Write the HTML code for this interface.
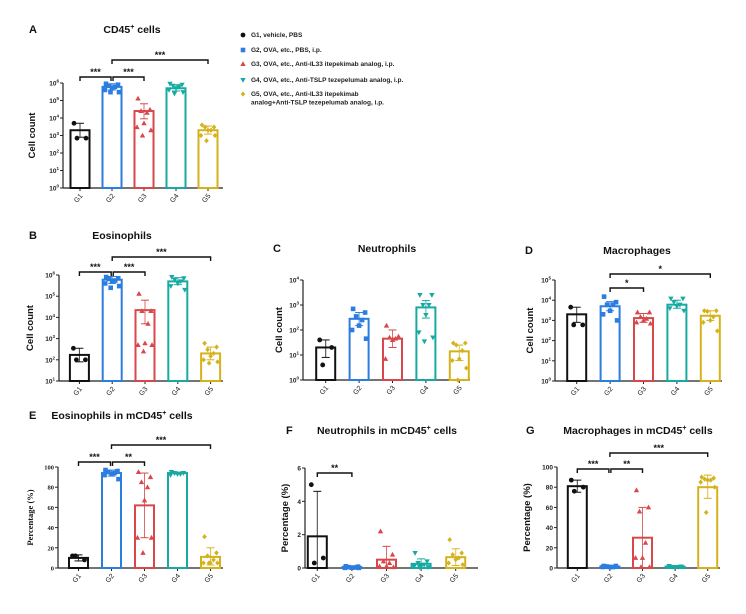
<!DOCTYPE html>
<html><head><meta charset="utf-8"><style>
body{margin:0;background:#fff;}
svg{display:block;font-family:"Liberation Sans",sans-serif;}
</style></head><body>
<svg id="fig" width="746" height="614" viewBox="0 0 746 614">
<g id="legend"></g>
</svg>
<script>
// ===== Data =====
const groups = ["G1","G2","G3","G4","G5"];
const legendLabels = ["G1, vehicle, PBS","G2, OVA, etc., PBS, i.p.","G3, OVA, etc., Anti-IL33 itepekimab analog, i.p.","G4, OVA, etc., Anti-TSLP tezepelumab analog, i.p.","G5, OVA, etc., Anti-IL33 itepekimab|analog+Anti-TSLP tezepelumab analog, i.p."];

const aMeans=[2000,600000,25000,500000,2000];
const aUp=[5000,900000,65000,800000,3500];
const aLo=[800,400000,9000,350000,1200];
const aPts=[[5000,700,700],[900000,800000,700000,600000,500000,400000,300000,300000],[130000,30000,25000,20000,5000,3000,2000,1000],[900000,800000,700000,600000,500000,400000,300000,250000],[4000,3000,3000,2000,2000,1000,1000,500]];

const bMeans=[170,600000,22000,500000,200];
const bUp=[350,850000,65000,750000,400];
const bLo=[80,400000,5000,350000,100];
const bPts=[[350,100,100],[800000,700000,650000,550000,500000,400000,300000,250000],[130000,20000,20000,5000,600,500,500,250],[800000,700000,600000,500000,400000,300000,200000],[600,400,300,200,150,100,80,70]];

const cMeans=[20,280,45,800,14];
const cUp=[40,500,100,1500,25];
const cLo=[8,150,20,300,6];
const cPts=[[40,20,4],[700,500,350,250,150,100,45],[150,55,50,45,40,7],[2500,2500,1000,1000,400,80,50,35],[30,30,25,15,7,6,3,1]];

const dMeans=[2000,5000,1300,6000,1700];
const dUp=[4500,8500,2200,10000,3000];
const dLo=[800,3000,800,4000,1000];
const dPts=[[4500,600,600],[15000,8000,6000,6000,3000,2000,1000],[2500,2500,1500,1200,1000,800,700],[12000,12000,8000,6000,5000,4000,3000],[3000,3000,2800,1500,1000,800,300]];

const eMeans=[10,94,62,94,11];
const eUp=[13,97,94,95,20];
const eLo=[7,91,30,93,3];
const ePts=[[12,8,12],[97,96,95,94,93,92,88],[95,90,85,80,67,30,30,15],[95,94,94,93,93,92],[31,15,12,8,5,5,5,5]];

const fMeans=[1.9,0.05,0.5,0.25,0.65];
const fUp=[4.6,0.1,1.3,0.55,1.15];
const fLo=[0,0,0,0,0.15];
const fPts=[[5,0.6,0.3],[0.1,0.08,0.05,0.03,0.02,0.01,0.01],[2.2,0.8,0.4,0.3,0.1,0.1,0.05],[0.9,0.4,0.3,0.2,0.1,0.1,0.05,0.05],[1.7,0.9,0.8,0.6,0.5,0.3,0.2]];

const gMeans=[81,1.5,30,1.5,80];
const gUp=[87,2.5,60,2.5,92];
const gLo=[75,0.5,0,0.5,69];
const gPts=[[87,80,76],[2,2,1.5,1,1,1],[77,60,56,25,10,10,1,1],[2,1.5,1,1],[90,89,88,87,87,85,80,55]];

const aLogTicks=[0,1,2,3,4,5,6];
const bLogTicks=[1,2,3,4,5,6];
const cLogTicks=[0,1,2,3,4];
const dLogTicks=[0,1,2,3,4,5];
const pctTicks=[0,20,40,60,80,100];
const fTicks=[0,2,4,6];

// ===== Rendering =====
const colors=["#111111","#2b7de0","#d9474a","#18aaa2","#d5b21c"];
const NS="http://www.w3.org/2000/svg";
const svg=document.getElementById('fig');
function mk(tag,attrs,parent){const e=document.createElementNS(NS,tag);for(const k in attrs)e.setAttribute(k,attrs[k]);(parent||svg).appendChild(e);return e;}
function marker(g,shape,x,y,c){
  let e;
  if(shape===0){e=mk('circle',{cx:x,cy:y,r:2.4,fill:c},g);}
  else if(shape===1){e=mk('rect',{x:x-2.3,y:y-2.3,width:4.6,height:4.6,fill:c},g);}
  else if(shape===2){e=mk('polygon',{points:`${x},${y-2.8} ${x+2.7},${y+2} ${x-2.7},${y+2}`,fill:c},g);}
  else if(shape===3){e=mk('polygon',{points:`${x},${y+2.8} ${x+2.7},${y-2} ${x-2.7},${y-2}`,fill:c},g);}
  else {e=mk('polygon',{points:`${x},${y-2.6} ${x+2.3},${y} ${x},${y+2.6} ${x-2.3},${y}`,fill:c},g);}
  
  
  return e;
}
const jit=[-6,6,-3,3,0,-7,7,-1.5,1.5];

function panel(p){
  const g=mk('g',{});
  
  
  const yf=p.log?(v=>p.y0-(Math.log10(Math.max(v,1e-9))-p.min)/(p.max-p.min)*(p.y0-p.y1)):(v=>p.y0-(v-p.min)/(p.max-p.min)*(p.y0-p.y1));
  // letter & title
  let t=mk('text',{x:p.lx,y:p.ty,'font-size':11,'font-weight':'bold',fill:'#111'},g);t.textContent=p.letter;
  
  t=mk('text',{x:p.tx,y:p.ty,'font-size':10.5,'font-weight':'bold','text-anchor':'middle',fill:'#111'},g);
  
  t.appendChild(document.createTextNode(p.title[0]));
  if(p.title.length>1){const s=mk('tspan',{'font-size':7,dy:-4},t);s.textContent=p.title[1];const s2=mk('tspan',{dy:4},t);s2.textContent=p.title[2];}
  // axes
  let a=mk('line',{x1:p.ax,y1:p.y1,x2:p.ax,y2:p.y0,stroke:'#222','stroke-width':1.2},g);
  
  a=mk('line',{x1:p.ax,y1:p.y0,x2:p.xe,y2:p.y0,stroke:'#222','stroke-width':1.2},g);
  
  p.ticks.forEach(tv=>{
    const yy=p.log?yf(Math.pow(10,tv)):yf(tv);
    mk('line',{x1:p.ax-3,y1:yy,x2:p.ax,y2:yy,stroke:'#222','stroke-width':1},g);
    const tt=mk('text',{x:p.ax-4,y:yy+2.5,'font-size':6.5,'text-anchor':'end',fill:'#222','font-family':p.serif?'"Liberation Serif",serif':'"Liberation Sans",sans-serif','font-weight':'bold'},g);
    
    if(p.log){tt.appendChild(document.createTextNode('10'));const s=mk('tspan',{'font-size':4.5,dy:-3},tt);s.textContent=String(tv);}
    else tt.textContent=String(tv);
  });
  const yl=mk('text',{transform:`translate(${p.ylx},${(p.y0+p.y1)/2}) rotate(-90)`,'font-size':p.serif?8.5:9.5,'font-weight':'bold','text-anchor':'middle',fill:'#111','font-family':p.serif?'"Liberation Serif",serif':'"Liberation Sans",sans-serif'},g);
  yl.textContent=p.ylabel;
  const step=(p.xe-p.ax)/5;
  groups.forEach((gn,i)=>{
    const cx=p.ax+step*(i+0.5)+p.off;
    const c=colors[i];
    mk('line',{x1:cx,y1:p.y0,x2:cx,y2:p.y0+3,stroke:'#222','stroke-width':1},g);
    const xl=mk('text',{transform:`translate(${cx+3},${p.y0+8}) rotate(-50)`,'font-size':7,'text-anchor':'end',fill:'#222'},g);
    xl.textContent=gn;
    const ym=yf(p.means[i]);
    const bar=mk('rect',{x:cx-9.5,y:ym,width:19,height:Math.max(0,p.y0-ym),fill:'none',stroke:c,'stroke-width':2},g);
    
    const yu=yf(p.up[i]),ylo=yf(p.lo[i]);
    const eb=mk('line',{x1:cx,y1:yu,x2:cx,y2:Math.min(ylo,p.y0),stroke:c,'stroke-width':1,opacity:0.8},g);
    
    mk('line',{x1:cx-4,y1:yu,x2:cx+4,y2:yu,stroke:c,'stroke-width':1},g);
    if(ylo<p.y0-1)mk('line',{x1:cx-4,y1:ylo,x2:cx+4,y2:ylo,stroke:c,'stroke-width':1},g);
    p.pts[i].forEach((v,j)=>marker(g,i,cx+jit[j%jit.length],yf(v),c));
  });
  (p.brackets||[]).forEach(b=>{
    const x1=p.ax+step*(b[0]+0.5)+p.off+ (b[3]||0),x2=p.ax+step*(b[1]+0.5)+p.off-(b[4]||0);
    const pl=mk('polyline',{points:`${x1},${b[2]+4} ${x1},${b[2]} ${x2},${b[2]} ${x2},${b[2]+4}`,fill:'none',stroke:'#111','stroke-width':1.4},g);
    
    const st=mk('text',{x:(x1+x2)/2,y:b[2]-2,'font-size':9,'font-weight':'bold','text-anchor':'middle',fill:'#111'},g);
    st.textContent=b[5];
  });
}

panel({name:'panel-a-cd45',letter:'A',lx:29,title:['CD45','+',' cells'],tx:132,ty:33,log:true,min:0,max:6,y0:188,y1:83,ax:63,xe:223,off:1,ticks:aLogTicks,ylabel:'Cell count',ylx:35,means:aMeans,up:aUp,lo:aLo,pts:aPts,brackets:[[0,1,77,0,1,'***'],[1,2,77,1,0,'***'],[1,4,60,0,0,'***']]});
panel({name:'panel-b-eosinophils',letter:'B',lx:29,title:['Eosinophils'],tx:122,ty:239,log:true,min:1,max:6,y0:381,y1:275,ax:59,xe:223,off:4,ticks:bLogTicks,ylabel:'Cell count',ylx:33,means:bMeans,up:bUp,lo:bLo,pts:bPts,brackets:[[0,1,272,0,1,'***'],[1,2,272,1,0,'***'],[1,4,257,0,0,'***']]});
panel({name:'panel-c-neutrophils',letter:'C',lx:273,title:['Neutrophils'],tx:387,ty:252,log:true,min:0,max:4,y0:380,y1:280,ax:303,xe:470,off:6,ticks:cLogTicks,ylabel:'Cell count',ylx:282,means:cMeans,up:cUp,lo:cLo,pts:cPts});
panel({name:'panel-d-macrophages',letter:'D',lx:525,title:['Macrophages'],tx:637,ty:254,log:true,min:0,max:5,y0:381,y1:280,ax:555,xe:722,off:5,ticks:dLogTicks,ylabel:'Cell count',ylx:533,means:dMeans,up:dUp,lo:dLo,pts:dPts,brackets:[[1,2,288,0,0,'*'],[1,4,274,0,0,'*']]});
panel({name:'panel-e-eos-pct',letter:'E',lx:29,title:['Eosinophils in mCD45','+',' cells'],tx:122,ty:419,log:false,min:0,max:100,y0:568,y1:467,ax:58,xe:223,off:4,serif:true,ticks:pctTicks,ylabel:'Percentage (%)',ylx:33,means:eMeans,up:eUp,lo:eLo,pts:ePts,brackets:[[0,1,462,0,1,'***'],[1,2,462,1,0,'**'],[1,4,445,0,0,'***']]});
panel({name:'panel-f-neut-pct',letter:'F',lx:286,title:['Neutrophils in mCD45','+',' cells'],tx:387,ty:434,log:false,min:0,max:6,y0:568,y1:468,ax:305,xe:478,off:-5,ticks:fTicks,ylabel:'Percentage (%)',ylx:288,means:fMeans,up:fUp,lo:fLo,pts:fPts,brackets:[[0,1,473,0,0,'**']]});
panel({name:'panel-g-mac-pct',letter:'G',lx:526,title:['Macrophages in mCD45','+',' cells'],tx:638,ty:434,log:false,min:0,max:100,y0:568,y1:467,ax:557,xe:720,off:4,ticks:pctTicks,ylabel:'Percentage (%)',ylx:530,means:gMeans,up:gUp,lo:gLo,pts:gPts,brackets:[[0,1,469,0,1,'***'],[1,2,469,1,0,'**'],[1,4,453,0,0,'***']]});

// legend
const lg=document.getElementById('legend');
const legY=[37,52,66,82,96];
legendLabels.forEach((l,i)=>{
  const eg=mk('g',{},lg);
  
  
  marker(eg,i,243,legY[i]-2,colors[i]);
  l.split('|').forEach((line,k)=>{
    const t=mk('text',{x:251,y:legY[i]+k*8.5,'font-size':6.5,'font-weight':'bold',fill:'#222'},eg);
    t.textContent=line;
  });
});
</script>
</body></html>
